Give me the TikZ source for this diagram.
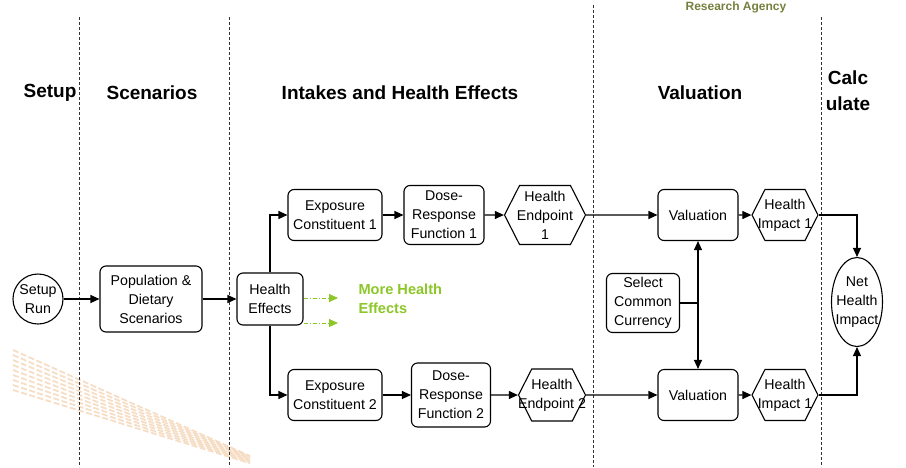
\documentclass[tikz,border=0pt]{standalone}
\usepackage{fontspec}
\setmainfont{Liberation Sans}
\usetikzlibrary{shapes.geometric,shapes.symbols,arrows.meta}

\definecolor{leaf}{RGB}{140,198,40}
\definecolor{agency}{RGB}{118,128,62}
\definecolor{peach}{RGB}{246,222,198}

\newcommand{\nowidth}[1]{\makebox[0pt]{#1}}

\tikzstyle{stage} = [font=\bfseries\fontsize{19}{26}\selectfont, align=center]
\tikzstyle{box} = [draw, rounded corners=6pt, line width=1.1pt, align=center, inner sep=2pt, font=\fontsize{14.2}{19}\selectfont]
\tikzstyle{hex} = [draw, signal, signal to=east and west, signal pointer angle=126, line width=1.1pt, align=center, inner sep=0pt, font=\fontsize{14.2}{19}\selectfont]
\tikzstyle{roundnode} = [draw, line width=1.1pt, align=center, inner sep=0pt, font=\fontsize{14.2}{19}\selectfont]
\tikzstyle{flow} = [draw, line width=1.1pt, -{Triangle[length=9pt,width=8pt]}]
\tikzstyle{twoway} = [draw, line width=1.1pt, {Triangle[length=9pt,width=8pt]}-{Triangle[length=9pt,width=8pt]}]
\tikzstyle{line} = [draw, line width=1.1pt]
\tikzstyle{more} = [draw=leaf, line width=1pt, dash pattern=on 4pt off 2pt on 1pt off 2pt, -{Triangle[length=9pt,width=8pt,fill=leaf]}]
\tikzstyle{divider} = [draw, black!80, line width=0.7pt, dash pattern=on 3pt off 2pt]

\begin{document}
\begin{tikzpicture}[x=1pt,y=-1pt]
	\useasboundingbox (0,0) rectangle (906,467);
	% faint stripes in the corner
	\foreach \i in {0,...,8}
		\draw[peach, line width=1.8pt, dash pattern=on 6pt off 2.5pt] (13,350+5*\i) -- (250,456+0.9*\i);
	% column dividers
	\foreach \x/\y in {79/17,229/17,593/5,821/17}
		\path[divider] (\x,\y) -- (\x,467);
	% headings
	\node (agency) at (736,7) [text=agency, font=\bfseries\fontsize{12}{14}\selectfont] {Research Agency};
	\node (hsetup) at (50,93) [stage] {Setup};
	\node (hscen) at (152,93) [stage] {Scenarios};
	\node (hintake) at (400,93) [stage] {Intakes and Health Effects};
	\node (hval) at (700,93) [stage] {Valuation};
	\node (hcalc) at (848,91) [stage] {Calc\\ulate};
	% nodes
	\node (setup) at (38,299) [roundnode, circle, minimum size=50pt] {\nowidth{Setup}\\\nowidth{Run}};
	\node (pop) at (151,299) [box, minimum width=102pt, minimum height=66pt] {Population \&\\Dietary\\Scenarios};
	\node (he) at (270,299) [box, minimum width=66pt, minimum height=52pt] {Health\\Effects};
	\node (exp1) at (335,215) [box, minimum width=94pt, minimum height=51pt] {Exposure\\Constituent 1};
	\node (dose1) at (444,215) [box, minimum width=80pt, minimum height=59pt] {Dose-\\Response\\Function 1};
	\node (end1) at (545,215) [hex, minimum width=81pt, minimum height=59pt] {\nowidth{Health}\\\nowidth{Endpoint}\\\nowidth{1}};
	\node (val1) at (698,215) [box, minimum width=80pt, minimum height=51pt] {Valuation};
	\node (imp1) at (785,215) [hex, minimum width=66pt, minimum height=51pt] {\nowidth{Health}\\\nowidth{Impact 1}};
	\node (sel) at (643,303) [box, minimum width=73pt, minimum height=59pt] {Select\\Common\\Currency};
	\node (net) at (857,302) [roundnode, ellipse, minimum width=51pt, minimum height=89pt] {\nowidth{Net}\\\nowidth{Health}\\\nowidth{Impact}};
	\node (exp2) at (335,395) [box, minimum width=94pt, minimum height=51pt] {Exposure\\Constituent 2};
	\node (dose2) at (451,395) [box, minimum width=79pt, minimum height=64pt] {Dose-\\Response\\Function 2};
	\node (end2) at (552,395) [hex, minimum width=67pt, minimum height=52pt] {\nowidth{Health}\\\nowidth{Endpoint 2}};
	\node (val2) at (698,395) [box, minimum width=80pt, minimum height=51pt] {Valuation};
	\node (imp2) at (785,395) [hex, minimum width=66pt, minimum height=51pt] {\nowidth{Health}\\\nowidth{Impact 1}};
	\node (moretxt) at (355,299) [anchor=west, text=leaf, align=left, font=\bfseries\fontsize{14.6}{19}\selectfont] {More Health\\Effects};
	\coordinate (more1) at (338,298);
	\coordinate (more2) at (338,323);
	% connectors
	\path[flow] (setup) -- (pop);
	\path[flow] (pop) -- (he);
	\path[flow] (he.north) |- (exp1.west);
	\path[flow] (he.south) |- (exp2.west);
	\path[more] (he.east |- more1) -- (more1);
	\path[more] (he.east |- more2) -- (more2);
	\path[flow] (exp1) -- (dose1);
	\path[flow] (dose1) -- (end1);
	\path[flow] (end1) -- (val1);
	\path[flow] (val1) -- (imp1);
	\path[flow] (exp2) -- (dose2);
	\path[flow] (dose2) -- (end2);
	\path[flow] (end2) -- (val2);
	\path[flow] (val2) -- (imp2);
	\path[line] (sel) -- (sel -| val1);
	\path[twoway] (val1) -- (val2);
	\path[flow] (imp1.east) -| (net.north);
	\path[flow] (imp2.east) -| (net.south);
\end{tikzpicture}
\end{document}
